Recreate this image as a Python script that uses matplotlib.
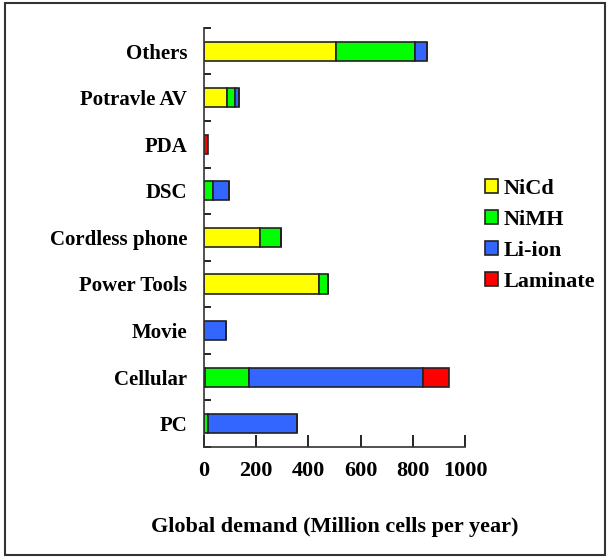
import matplotlib.pyplot as plt
import numpy as np
from matplotlib.patches import Rectangle

categories = ["PC", "Cellular", "Movie", "Power Tools", "Cordless phone",
              "DSC", "PDA", "Potravle AV", "Others"]
nicd = [0, 5, 0, 441, 216, 0, 0, 87, 505]
nimh = [17, 167, 0, 33, 78, 36, 0, 32, 302]
li_ion = [340, 668, 83, 0, 0, 60, 0, 16, 46]
laminate = [0, 98, 0, 0, 0, 0, 15, 0, 0]

series = [("NiCd", nicd, "#FFFF00"), ("NiMH", nimh, "#00FF00"),
          ("Li-ion", li_ion, "#3366FF"), ("Laminate", laminate, "#FF0000")]

plt.rcParams["font.family"] = ["Liberation Serif", "DejaVu Serif"]
plt.rcParams["font.weight"] = "bold"

fig = plt.figure(figsize=(6.09, 5.58), dpi=100)
ax = fig.add_axes([0.335, 0.199, 0.4286, 0.751])

y = np.arange(len(categories))
left = np.zeros(len(categories))
for name, vals, col in series:
    vals = np.array(vals, dtype=float)
    ax.barh(y, vals, left=left, height=0.41, color=col, edgecolor="#222222",
            linewidth=1.2, label=name)
    left += vals

ax.set_xlim(0, 1000)
ax.set_ylim(-0.5, len(categories) - 0.5)
ax.set_xticks(np.arange(0, 1001, 200))
ax.set_yticks(y)
ax.set_yticklabels(categories, fontsize=15, fontweight="bold")
ax.set_yticks(np.arange(-0.5, len(categories), 1.0), minor=True)
ax.tick_params(axis="y", which="major", length=0, pad=12)
ax.tick_params(axis="y", which="minor", direction="in", length=5, width=1.2)
ax.tick_params(axis="x", direction="in", length=9, width=1.2, labelsize=16, pad=10)
for lab in ax.get_xticklabels():
    lab.set_fontweight("bold")
for s in ["top", "right"]:
    ax.spines[s].set_visible(False)
for s in ["left", "bottom"]:
    ax.spines[s].set_linewidth(1.2)
    ax.spines[s].set_color("#333333")

ax.set_xlabel("Global demand (Million cells per year)", fontsize=16,
              fontweight="bold", labelpad=26)

ax.legend(loc="center left", bbox_to_anchor=(1.0, 0.505), frameon=False,
          handlelength=0.6, handleheight=0.6, handletextpad=0.25,
          labelspacing=0.5, prop={"weight": "bold", "size": 16})

fig.patches.append(Rectangle((0.009, 0.006), 0.984, 0.988, transform=fig.transFigure,
                             fill=False, edgecolor="#333333", linewidth=1.5))

fig.savefig("out.png", dpi=100)
